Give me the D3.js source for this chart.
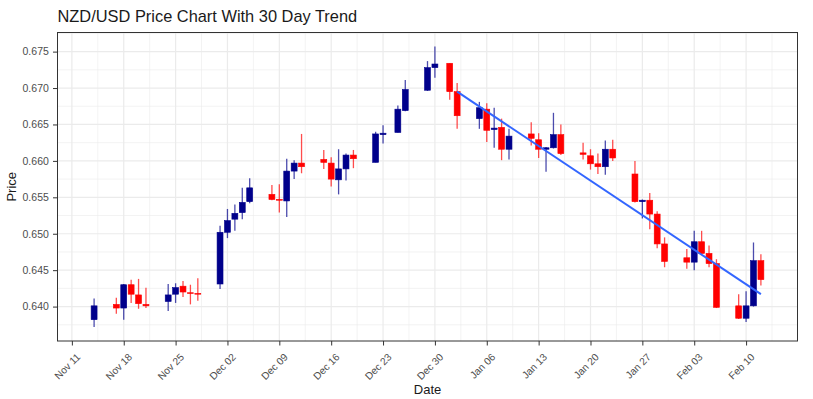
<!DOCTYPE html>
<html>
<head>
<meta charset="utf-8">
<script src="https://cdn.jsdelivr.net/npm/d3@7"></script>
<style>
  body { margin: 0; background: #fff; }
  svg { display: block; font-family: "Liberation Sans", Arial, sans-serif; }
</style>
</head>
<body>
<div id="chart"></div>
<script>
// NZD/USD daily candles
const DATES = ["2024-11-14","2024-11-17","2024-11-18","2024-11-19","2024-11-20","2024-11-21",
  "2024-11-24","2024-11-25","2024-11-26","2024-11-27","2024-11-28",
  "2024-12-01","2024-12-02","2024-12-03","2024-12-04","2024-12-05",
  "2024-12-08","2024-12-09","2024-12-10","2024-12-11","2024-12-12",
  "2024-12-15","2024-12-16","2024-12-17","2024-12-18","2024-12-19",
  "2024-12-22","2024-12-23","2024-12-25","2024-12-26",
  "2024-12-29","2024-12-30","2025-01-01","2025-01-02",
  "2025-01-05","2025-01-06","2025-01-07","2025-01-08","2025-01-09",
  "2025-01-12","2025-01-13","2025-01-14","2025-01-15","2025-01-16",
  "2025-01-19","2025-01-20","2025-01-21","2025-01-22","2025-01-23",
  "2025-01-26","2025-01-27","2025-01-28","2025-01-29","2025-01-30",
  "2025-02-02","2025-02-03","2025-02-04","2025-02-05","2025-02-06",
  "2025-02-09","2025-02-10","2025-02-11","2025-02-12"];
const OPEN  = [0.6382,0.6403,0.6398,0.6430,0.6416,0.6403, 0.6407,0.6417,0.6428,0.6419,0.6418,
  0.6431,0.6502,0.6520,0.6529,0.6544, 0.6554,0.6547,0.6545,0.6586,0.6597,
  0.6602,0.6597,0.6574,0.6589,0.6608, 0.6598,0.6636,0.6639,0.6669,
  0.6697,0.6728,0.6734,0.6695, 0.6658,0.6671,0.6643,0.6646,0.6616,
  0.6637,0.6629,0.6616,0.6618,0.6636, 0.6611,0.6607,0.6596,0.6592,0.6616,
  0.6582,0.6544,0.6546,0.6527,0.6486, 0.6467,0.6461,0.6489,0.6473,0.6459,
  0.6401,0.6384,0.6401,0.6463];
const HIGH  = [0.6411,0.6412,0.6431,0.6437,0.6438,0.6426, 0.6431,0.6432,0.6435,0.6430,0.6439,
  0.6511,0.6534,0.6540,0.6563,0.6576, 0.6567,0.6568,0.6603,0.6601,0.6637,
  0.6615,0.6605,0.6616,0.6610,0.6615, 0.6640,0.6649,0.6676,0.6711,
  0.6737,0.6757,0.6734,0.6707, 0.6681,0.6679,0.6673,0.6658,0.6644,
  0.6653,0.6638,0.6619,0.6666,0.6650, 0.6625,0.6616,0.6610,0.6628,0.6629,
  0.6600,0.6547,0.6556,0.6531,0.6495, 0.6479,0.6504,0.6504,0.6484,0.6465,
  0.6417,0.6421,0.6488,0.6472];
const LOW   = [0.6372,0.6390,0.6382,0.6405,0.6397,0.6398, 0.6394,0.6405,0.6413,0.6403,0.6408,
  0.6424,0.6494,0.6504,0.6520,0.6542, 0.6546,0.6529,0.6523,0.6575,0.6583,
  0.6589,0.6565,0.6554,0.6573,0.6590, 0.6598,0.6624,0.6639,0.6668,
  0.6696,0.6714,0.6684,0.6644, 0.6644,0.6626,0.6618,0.6601,0.6602,
  0.6621,0.6604,0.6585,0.6617,0.6608, 0.6602,0.6588,0.6582,0.6581,0.6600,
  0.6543,0.6521,0.6506,0.6480,0.6454, 0.6452,0.6450,0.6472,0.6454,0.6398,
  0.6383,0.6379,0.6400,0.6429];
const CLOSE = [0.6401,0.6398,0.6430,0.6417,0.6404,0.6401, 0.6416,0.6426,0.6420,0.6418,0.6417,
  0.6502,0.6518,0.6528,0.6543,0.6563, 0.6547,0.6546,0.6586,0.6597,0.6592,
  0.6598,0.6575,0.6589,0.6608,0.6603, 0.6637,0.6638,0.6671,0.6698,
  0.6728,0.6733,0.6695,0.6662, 0.6673,0.6642,0.6645,0.6616,0.6634,
  0.6631,0.6616,0.6618,0.6636,0.6610, 0.6609,0.6596,0.6592,0.6616,0.6604,
  0.6544,0.6546,0.6527,0.6486,0.6462, 0.6461,0.6489,0.6473,0.6459,0.6399,
  0.6384,0.6401,0.6463,0.6437];

// 30 day linear trend (end points)
const TREND_DATES  = ["2025-01-02", "2025-02-12"];
const TREND_VALUES = [0.6695, 0.6417];

const TITLE = "NZD/USD Price Chart With 30 Day Trend";
const UP = "#00008B", DOWN = "#FF0000";
const DAY = 864e5;

const vw = 813, vh = 399;
const m = { l: 57.5, r: 15.5, t: 32.5, b: 58 };
const W = vw - m.l - m.r, H = vh - m.t - m.b;

const svg = d3.select("#chart").append("svg").attr("width", vw).attr("height", vh);
const g = svg.append("g").attr("transform", `translate(${m.l},${m.t})`);

const candles = DATES.map((d, i) => ({
  date: new Date(d + "T00:00:00Z"), open: OPEN[i], high: HIGH[i], low: LOW[i], close: CLOSE[i]
}));

// ggplot-like 5% expansion, body width 0.8 day
const halfW = 0.4 * DAY;
const x0 = +candles[0].date - halfW, x1 = +candles[candles.length - 1].date + halfW;
const xPad = (x1 - x0) * 0.05;
const x = d3.scaleUtc().domain([new Date(x0 - xPad), new Date(x1 + xPad)]).range([0, W]);

const yLo = d3.min(LOW), yHi = d3.max(HIGH), yPad = (yHi - yLo) * 0.05;
const y = d3.scaleLinear().domain([yLo - yPad, yHi + yPad]).range([H, 0]);

// grid
const yMajor = d3.range(0.640, 0.6751, 0.005);
const yMinor = d3.range(0.6375, 0.6801, 0.005).filter(v => y(v) >= 0 && y(v) <= H);
const xMajor = d3.utcMonday.range(new Date("2024-11-11T00:00:00Z"), new Date("2025-02-11T00:00:00Z"));
const xMinor = d3.range(+xMajor[0] - 3.5 * DAY, +x.domain()[1], 7 * DAY).map(t => new Date(t))
  .filter(t => x(t) >= 0 && x(t) <= W);

const grid = g.append("g");
grid.selectAll(".ymin").data(yMinor).enter().append("line")
  .attr("x1", 0).attr("x2", W).attr("y1", d => y(d)).attr("y2", d => y(d))
  .attr("stroke", "#EBEBEB").attr("stroke-width", 0.6);
grid.selectAll(".xmin").data(xMinor).enter().append("line")
  .attr("y1", 0).attr("y2", H).attr("x1", d => x(d)).attr("x2", d => x(d))
  .attr("stroke", "#EBEBEB").attr("stroke-width", 0.6);
grid.selectAll(".ymaj").data(yMajor).enter().append("line")
  .attr("x1", 0).attr("x2", W).attr("y1", d => y(d)).attr("y2", d => y(d))
  .attr("stroke", "#EBEBEB").attr("stroke-width", 1.2);
grid.selectAll(".xmaj").data(xMajor).enter().append("line")
  .attr("y1", 0).attr("y2", H).attr("x1", d => x(d)).attr("x2", d => x(d))
  .attr("stroke", "#EBEBEB").attr("stroke-width", 1.2);

// wicks
const col = d => d.close >= d.open ? UP : DOWN;
g.selectAll(".wick").data(candles).enter().append("line")
  .attr("x1", d => x(d.date)).attr("x2", d => x(d.date))
  .attr("y1", d => y(d.high)).attr("y2", d => y(d.low))
  .attr("stroke", col).attr("stroke-opacity", 0.7).attr("stroke-width", 1.3);

// bodies
g.selectAll(".body").data(candles).enter().append("rect")
  .attr("x", d => x(+d.date - halfW))
  .attr("width", d => x(+d.date + halfW) - x(+d.date - halfW))
  .attr("y", d => y(Math.max(d.open, d.close)))
  .attr("height", d => Math.abs(y(d.open) - y(d.close)))
  .attr("fill", col).attr("stroke", col).attr("stroke-width", 0.6);

// trend line
const trend = TREND_DATES.map((d, i) => ({ date: new Date(d + "T00:00:00Z"), value: TREND_VALUES[i] }));
g.append("path").datum(trend)
  .attr("fill", "none").attr("stroke", "#3366FF").attr("stroke-width", 2)
  .attr("d", d3.line().x(d => x(d.date)).y(d => y(d.value)));

// panel border
g.append("rect").attr("width", W).attr("height", H)
  .attr("fill", "none").attr("stroke", "#333333").attr("stroke-width", 1);

// axes
g.append("g").attr("transform", `translate(0,${H})`)
  .call(d3.axisBottom(x).tickValues(xMajor).tickFormat(d3.utcFormat("%b %d")).tickSize(4.5).tickPadding(2))
  .call(ax => {
    ax.select(".domain").remove();
    ax.selectAll("line").attr("stroke", "#333333");
    ax.selectAll("text").attr("x", 0).attr("y", 0).attr("dy", "0.71em")
      .attr("transform", "translate(3.5,11.5) rotate(-45)").attr("text-anchor", "end")
      .style("font-size", "10.2px").style("fill", "#4D4D4D");
  });

g.append("g")
  .call(d3.axisLeft(y).tickValues(yMajor).tickFormat(d3.format(".3f")).tickSize(4.5).tickPadding(4.2))
  .call(ax => {
    ax.select(".domain").remove();
    ax.selectAll("line").attr("stroke", "#333333");
    ax.selectAll("text").style("font-size", "10.5px").style("fill", "#4D4D4D");
  });

// titles
svg.append("text").attr("x", m.l).attr("y", 22)
  .style("font-size", "16.4px").style("fill", "#1a1a1a").text(TITLE);
svg.append("text").attr("x", m.l + W / 2).attr("y", 394).attr("text-anchor", "middle")
  .style("font-size", "13px").style("fill", "#1a1a1a").text("Date");
svg.append("text").attr("transform", `translate(15.5,${m.t + H / 2}) rotate(-90)`)
  .attr("text-anchor", "middle").style("font-size", "13px").style("fill", "#1a1a1a").text("Price");
</script>
</body>
</html>
